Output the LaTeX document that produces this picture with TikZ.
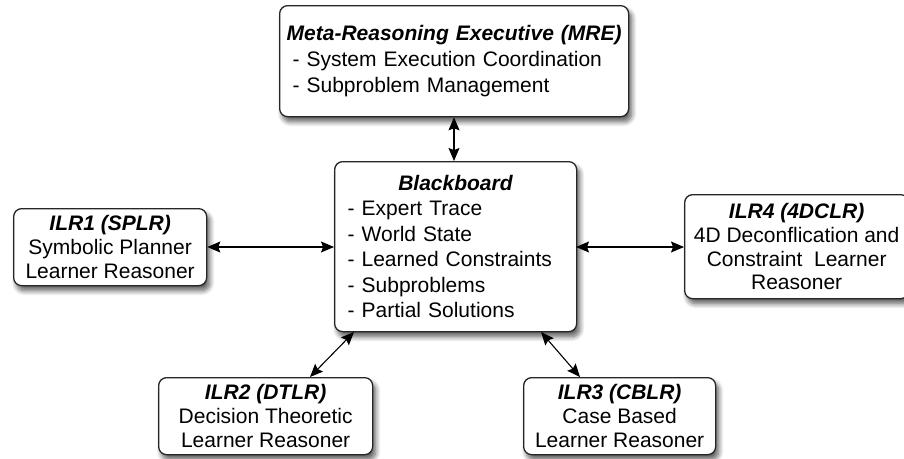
\documentclass[tikz,border=0pt]{standalone}
\usepackage{fontspec}
\setmainfont{Liberation Sans}
\usetikzlibrary{arrows.meta,shadows.blur}
\begin{document}
\begin{tikzpicture}[x=1pt,y=-1pt,
  box/.style={draw=black!85, line width=1.3pt, rounded corners=8pt, fill=white,
    anchor=north west, inner sep=0pt, align=center,
    font=\fontsize{21}{23.8}\selectfont,
    blur shadow={shadow xshift=3pt, shadow yshift=-5pt, shadow blur steps=8,
      shadow blur radius=5pt, shadow opacity=65}},
  listbox/.style={box, align=left, inner xsep=13pt},
  link/.style={line width=1.1pt,
    {Stealth[length=13pt,width=11pt,inset=2pt]}-{Stealth[length=13pt,width=11pt,inset=2pt]}},
]
\useasboundingbox (0,0) rectangle (904,458);

% Executive at the top
\node[listbox, text width=323pt, minimum width=349pt, minimum height=111pt,
      font=\fontsize{21}{26.2}\selectfont] (mre) at (279,5)
  {\makebox[\linewidth][c]{\textbf{\textit{Meta-Reasoning Executive (MRE)}}}\\
   - System Execution Coordination\\ - Subproblem Management};

% Shared blackboard in the middle
\node[listbox, text width=216pt, minimum width=242pt, minimum height=170pt,
      font=\fontsize{21}{25.5}\selectfont] (bb) at (334,161)
  {\makebox[\linewidth][c]{\textbf{\textit{Blackboard}}}\\
   - Expert Trace\\ - World State\\ - Learned Constraints\\ - Subproblems\\ - Partial Solutions};

% Learner/reasoner components
\node[box, minimum width=193pt, minimum height=77pt] (ilr1) at (13,208)
  {\textbf{\textit{ILR1 (SPLR)}}\\ Symbolic Planner\\ Learner Reasoner};
\node[box, minimum width=224pt, minimum height=104pt] (ilr4) at (684,194)
  {\textbf{\textit{ILR4 (4DCLR)}}\\ 4D Deconflication and\\ Constraint\ \ Learner\\ Reasoner};
\node[box, minimum width=214pt, minimum height=77pt] (ilr2) at (158,377)
  {\textbf{\textit{ILR2 (DTLR)}}\\ Decision Theoretic\\ Learner Reasoner};
\node[box, minimum width=192pt, minimum height=77pt] (ilr3) at (523,377)
  {\textbf{\textit{ILR3 (CBLR)}}\\ Case Based\\ Learner Reasoner};

% Connections to the blackboard
\coordinate (bbtop) at (454,161);
\coordinate (bbl) at (334,247);
\coordinate (bbr) at (576,247);
\coordinate (bbsw) at (354,332);
\coordinate (bbse) at (541,332);
\coordinate (ilr2top) at (310,377);
\coordinate (ilr3top) at (580,377);
\draw[link] (mre.south -| bbtop) -- (bbtop);
\draw[link] (ilr1.east |- bbl) -- (bbl);
\draw[link] (bbr) -- (ilr4.west |- bbr);
\draw[link] (bbsw) -- (ilr2top);
\draw[link] (bbse) -- (ilr3top);
\end{tikzpicture}
\end{document}
